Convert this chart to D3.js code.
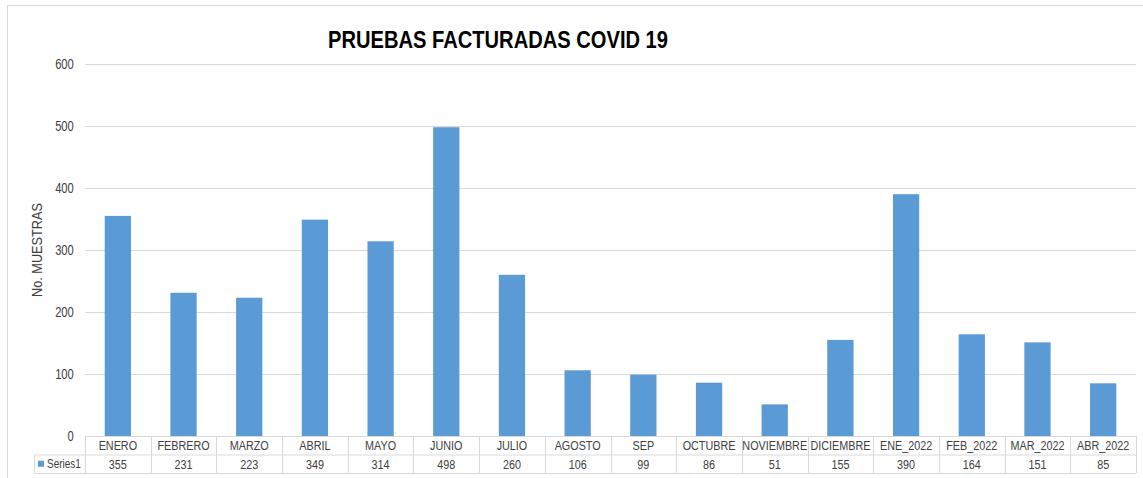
<!DOCTYPE html>
<html>
<head>
<meta charset="utf-8">
<script src="https://cdn.jsdelivr.net/npm/d3@7"></script>
<style>
  body { margin: 0; background: #fff; }
  text { font-family: "Liberation Sans", Arial, sans-serif; fill: #404040; }
</style>
</head>
<body>
<div id="chart"></div>
<script>
// data
const months = ["ENERO", "FEBRERO", "MARZO", "ABRIL", "MAYO", "JUNIO", "JULIO", "AGOSTO", "SEP",
  "OCTUBRE", "NOVIEMBRE", "DICIEMBRE", "ENE_2022", "FEB_2022", "MAR_2022", "ABR_2022"];
const series1 = [355, 231, 223, 349, 314, 498, 260, 106, 99, 86, 51, 155, 390, 164, 151, 85];
const yTicks = [0, 100, 200, 300, 400, 500, 600];
const seriesName = "Series1";
const chartTitle = "PRUEBAS FACTURADAS COVID 19";
const yTitle = "No. MUESTRAS";

const width = 1143, height = 478;
const plotLeft = 85, plotRight = 1136, plotTop = 64, plotBottom = 436;
const rowH = 18.5;
const narrow = 0.8; // no narrow font installed, squeeze text instead

const svg = d3.select("#chart").append("svg")
  .attr("width", width)
  .attr("height", height);

// chart frame (runs off the right and bottom)
svg.append("rect")
  .attr("x", 7.5).attr("y", 5.5)
  .attr("width", width + 20).attr("height", height + 20)
  .attr("fill", "none")
  .attr("stroke", "#d9d9d9");

const x = d3.scaleBand()
  .domain(months)
  .range([plotLeft, plotRight])
  .paddingInner(0.6)
  .paddingOuter(0.3);

const cols = d3.scaleBand()
  .domain(months)
  .range([plotLeft, plotRight]);

const y = d3.scaleLinear()
  .domain([0, 600])
  .range([plotBottom, plotTop]);

// gridlines + tick labels
const yAxis = svg.append("g")
  .attr("transform", `translate(${plotLeft},0)`)
  .call(d3.axisLeft(y).tickValues(yTicks).tickSize(-(plotRight - plotLeft)).tickPadding(14));
yAxis.select(".domain").remove();
yAxis.selectAll(".tick line").attr("stroke", "#d9d9d9");
yAxis.selectAll(".tick text")
  .attr("font-size", 14)
  .attr("font-family", null)
  .attr("transform", `scale(${narrow},1)`)
  .style("fill", "#404040");

// bars
svg.append("g")
  .selectAll("rect")
  .data(series1)
  .join("rect")
  .attr("x", (d, i) => x(months[i]))
  .attr("y", d => y(d))
  .attr("width", x.bandwidth())
  .attr("height", d => y(0) - y(d))
  .attr("fill", "#5b9bd5");

// data table
const table = svg.append("g").attr("stroke", "#d9d9d9").attr("fill", "none");
table.append("line")
  .attr("x1", 34).attr("x2", plotRight)
  .attr("y1", plotBottom + rowH + 0.5).attr("y2", plotBottom + rowH + 0.5);
table.append("line")
  .attr("x1", 34).attr("x2", plotRight)
  .attr("y1", plotBottom + 2 * rowH + 0.5).attr("y2", plotBottom + 2 * rowH + 0.5);
table.append("line")
  .attr("x1", 34.5).attr("x2", 34.5)
  .attr("y1", plotBottom + rowH).attr("y2", plotBottom + 2 * rowH);
table.selectAll("line.col")
  .data(months.concat(["end"]))
  .join("line")
  .attr("class", "col")
  .attr("x1", d => Math.round(d === "end" ? plotRight : cols(d)) + 0.5)
  .attr("x2", d => Math.round(d === "end" ? plotRight : cols(d)) + 0.5)
  .attr("y1", plotBottom).attr("y2", plotBottom + 2 * rowH);

svg.append("g")
  .selectAll("text")
  .data(months)
  .join("text")
  .attr("transform", d => `translate(${cols(d) + cols.bandwidth() / 2},${plotBottom + rowH / 2 + 5}) scale(${narrow},1)`)
  .attr("text-anchor", "middle")
  .attr("font-size", 13.5)
  .text(d => d);

svg.append("g")
  .selectAll("text")
  .data(series1)
  .join("text")
  .attr("transform", (d, i) => `translate(${cols(months[i]) + cols.bandwidth() / 2},${plotBottom + rowH * 1.5 + 5}) scale(${narrow},1)`)
  .attr("text-anchor", "middle")
  .attr("font-size", 13.5)
  .text(d => d);

// legend key in table
svg.append("rect")
  .attr("x", 38).attr("y", plotBottom + rowH * 1.5 - 3)
  .attr("width", 6).attr("height", 6)
  .attr("fill", "#5b9bd5");
svg.append("text")
  .attr("transform", `translate(47,${plotBottom + rowH * 1.5 + 4.5}) scale(${narrow},1)`)
  .attr("font-size", 12.5)
  .text(seriesName);

// titles
svg.append("text")
  .attr("x", 498).attr("y", 48)
  .attr("text-anchor", "middle")
  .attr("font-size", 23)
  .attr("font-weight", "bold")
  .attr("textLength", 340)
  .attr("lengthAdjust", "spacingAndGlyphs")
  .style("fill", "#000")
  .text(chartTitle);

svg.append("text")
  .attr("transform", "translate(42,250) rotate(-90)")
  .attr("text-anchor", "middle")
  .attr("font-size", 14.5)
  .attr("textLength", 94)
  .attr("lengthAdjust", "spacingAndGlyphs")
  .text(yTitle);
</script>
</body>
</html>
